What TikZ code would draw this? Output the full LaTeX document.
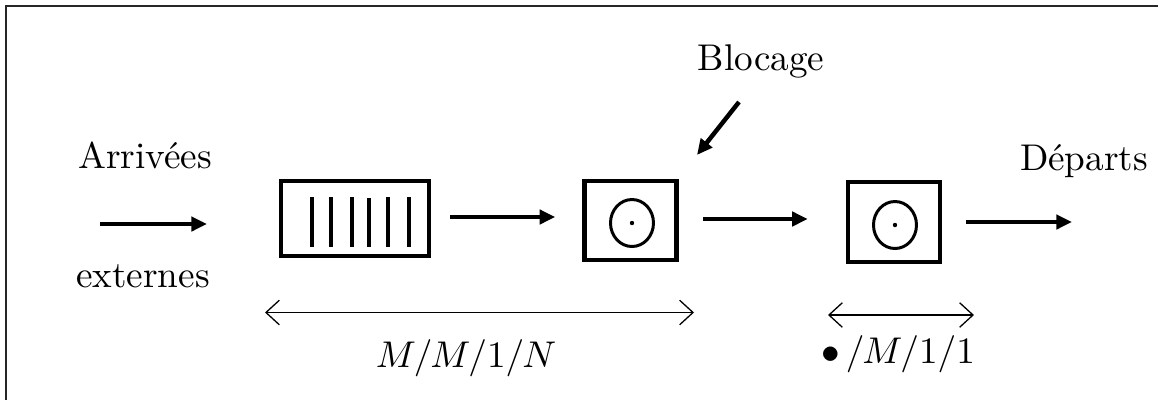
\documentclass[tikz,border=0pt]{standalone}
\usetikzlibrary{arrows.meta}
\begin{document}
\begin{tikzpicture}[x=0.2688pt,y=-0.2688pt,
  thickarrow/.style={line width=1.2pt,-{Triangle[length=4.2pt,width=3.8pt]}},
  thinarrow/.style={line width=0.35pt,{Straight Barb[length=3.6pt,width=6.6pt]}-{Straight Barb[length=3.6pt,width=6.6pt]}},
  box/.style={draw,line width=1.25pt,inner sep=0pt},
  bar/.style={line width=1.1pt},
  lbl/.style={anchor=base,inner sep=0pt,font=\normalsize}]
\useasboundingbox (0,0) rectangle (1158,400);
\draw[line width=0.45pt,black!85] (6,400) -- (6,6) -- (1158,6);

% boxes
\node[box,minimum width=39.8pt,minimum height=20.2pt] (q) at (355,218.5) {};
\node[box,minimum width=24.6pt,minimum height=21.3pt] (s1) at (630.5,220.5) {};
\node[box,minimum width=24.7pt,minimum height=21.5pt] (s2) at (894,222) {};

% queue bars
\foreach \xx/\yy in {312/197,331/197,352/197,369/198,388/197,409/197}
  \draw[bar] (\xx,\yy) -- (\xx,246.5);

% servers
\draw[line width=0.8pt] (632,223) ellipse [x radius=21.5, y radius=23.5];
\fill (632,223) circle [radius=2.2];
\draw[line width=0.8pt] (895,225) ellipse [x radius=21.5, y radius=23.5];
\fill (895,225) circle [radius=2.2];

% labels
\node[lbl] (arr) at (145,168) {Arrivées};
\node[lbl] (ext) at (143,287) {externes};
\node[lbl] (blo) at (761,70) {Blocage};
\node[lbl] (dep) at (1084,170) {Départs};
\node[lbl] (m1) at (466,367) {$M/M/1/N$};
\node[lbl] (m2) at (898,363) {$\bullet\,/M/1/1$};

% arrows
\coordinate (a0) at (100,224);
\coordinate (a1) at (207,224);
\draw[thickarrow] (a0) -- (a1);
\draw[thickarrow,shorten <=5.1pt,shorten >=7.3pt] (q.east |- 0,217) -- (s1.west |- 0,217);
\draw[thickarrow,shorten <=6.5pt,shorten >=10.2pt] (s1.east |- 0,219) -- (s2.west |- 0,219);
\coordinate (d1) at (1072,222);
\draw[thickarrow,shorten <=6.5pt] (s2.east |- 0,222) -- (d1);
\coordinate (b0) at (739,102);
\coordinate (b1) at (697,155);
\draw[thickarrow] (b0) -- (b1);

% range arrows
\coordinate (r1a) at (265,312.5);
\coordinate (r1b) at (694,312.5);
\draw[thinarrow] (r1a) -- (r1b);
\coordinate (r2a) at (828,315);
\coordinate (r2b) at (974,315);
\draw[thinarrow] (r2a) -- (r2b);
\end{tikzpicture}
\end{document}
